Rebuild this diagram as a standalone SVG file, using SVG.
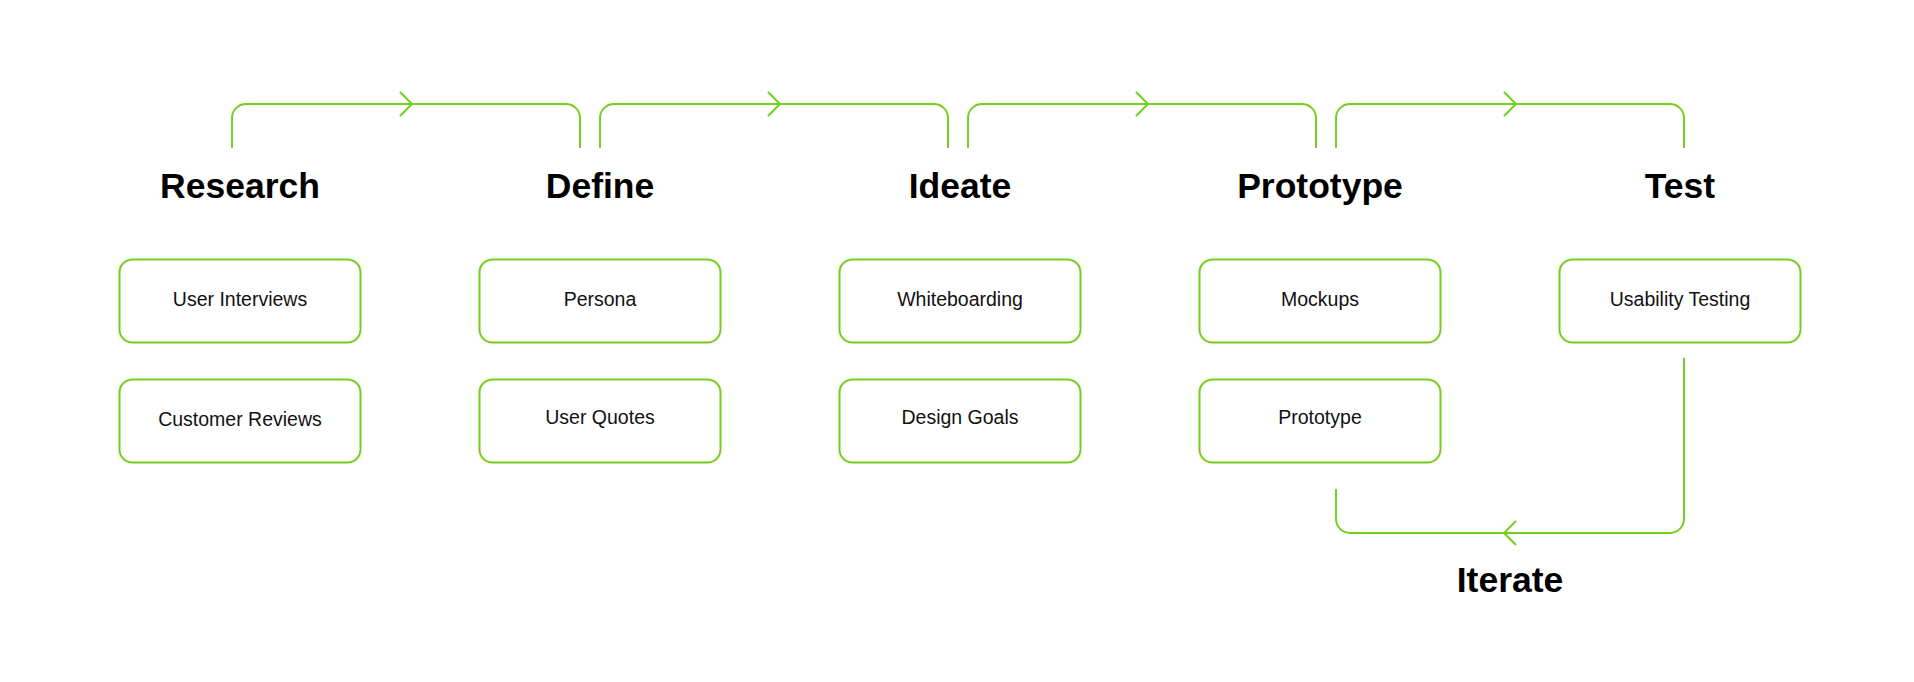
<svg xmlns="http://www.w3.org/2000/svg" width="1914" height="682" viewBox="0 0 1914 682">
<style>
.bg{fill:#ffffff}
.box{fill:#ffffff;stroke:#74CF1E;stroke-width:2}
.conn{fill:none;stroke:#74CF1E;stroke-width:2;stroke-linecap:butt;stroke-linejoin:miter}
.h{font-family:"Liberation Sans",Arial,sans-serif;font-weight:bold;font-size:35.5px;fill:#000;text-anchor:middle}
.t{font-family:"Liberation Sans",Arial,sans-serif;font-size:19.5px;fill:#111;text-anchor:middle}
</style>
<rect class="bg" x="0" y="0" width="1914" height="682"/>
<g id="connectors">
  <path class="conn" d="M232 148 V118 A14 14 0 0 1 246 104 H566 A14 14 0 0 1 580 118 V148"/>
  <path class="conn" d="M400 92 L412 104 L400 116"/>
  <path class="conn" d="M600 148 V118 A14 14 0 0 1 614 104 H934 A14 14 0 0 1 948 118 V148"/>
  <path class="conn" d="M768 92 L780 104 L768 116"/>
  <path class="conn" d="M968 148 V118 A14 14 0 0 1 982 104 H1302 A14 14 0 0 1 1316 118 V148"/>
  <path class="conn" d="M1136 92 L1148 104 L1136 116"/>
  <path class="conn" d="M1336 148 V118 A14 14 0 0 1 1350 104 H1670 A14 14 0 0 1 1684 118 V148"/>
  <path class="conn" d="M1504 92 L1516 104 L1504 116"/>
  <path id="iterate-loop" class="conn" d="M1684 358 V519 A14 14 0 0 1 1670 533 H1350 A14 14 0 0 1 1336 519 V489"/>
  <path class="conn" d="M1516 521 L1504 533 L1516 545"/>
</g>
<g id="research">
  <text class="h" x="240" y="198">Research</text>
</g>
<g id="define">
  <text class="h" x="600" y="198">Define</text>
</g>
<g id="ideate">
  <text class="h" x="960" y="198">Ideate</text>
</g>
<g id="prototype">
  <text class="h" x="1320" y="198">Prototype</text>
</g>
<g id="test">
  <text class="h" x="1680" y="198">Test</text>
</g>
<g id="iterate">
  <text class="h" x="1510" y="592">Iterate</text>
</g>
<g id="user-interviews">
  <rect class="box" x="119.5" y="259.5" width="241" height="83" rx="13"/>
  <text class="t" x="240" y="306">User Interviews</text>
</g>
<g id="customer-reviews">
  <rect class="box" x="119.5" y="379.5" width="241" height="83" rx="13"/>
  <text class="t" x="240" y="426">Customer Reviews</text>
</g>
<g id="persona">
  <rect class="box" x="479.5" y="259.5" width="241" height="83" rx="13"/>
  <text class="t" x="600" y="306">Persona</text>
</g>
<g id="user-quotes">
  <rect class="box" x="479.5" y="379.5" width="241" height="83" rx="13"/>
  <text class="t" x="600" y="424">User Quotes</text>
</g>
<g id="whiteboarding">
  <rect class="box" x="839.5" y="259.5" width="241" height="83" rx="13"/>
  <text class="t" x="960" y="306">Whiteboarding</text>
</g>
<g id="design-goals">
  <rect class="box" x="839.5" y="379.5" width="241" height="83" rx="13"/>
  <text class="t" x="960" y="424">Design Goals</text>
</g>
<g id="mockups">
  <rect class="box" x="1199.5" y="259.5" width="241" height="83" rx="13"/>
  <text class="t" x="1320" y="306">Mockups</text>
</g>
<g id="prototype-box">
  <rect class="box" x="1199.5" y="379.5" width="241" height="83" rx="13"/>
  <text class="t" x="1320" y="424">Prototype</text>
</g>
<g id="usability-testing">
  <rect class="box" x="1559.5" y="259.5" width="241" height="83" rx="13"/>
  <text class="t" x="1680" y="306">Usability Testing</text>
</g>
</svg>
